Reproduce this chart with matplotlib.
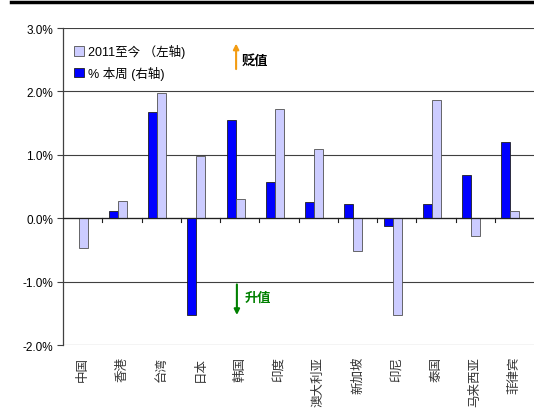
import matplotlib.pyplot as plt
import numpy as np

plt.rcParams['font.family'] = ['Liberation Sans', 'Noto Sans CJK SC', 'DejaVu Sans']

countries = ['中国', '香港', '台湾', '日本', '韩国', '印度', '澳大利亚',
             '新加坡', '印尼', '泰国', '马来西亚', '菲律宾']
week_pct = [0.01, 0.12, 1.67, -1.52, 1.55, 0.58, 0.26, 0.23, -0.12, 0.23, 0.68, 1.20]
ytd_2011 = [-0.47, 0.27, 1.98, 0.99, 0.30, 1.73, 1.10, -0.52, -1.53, 1.86, -0.28, 0.11]

fig = plt.figure(figsize=(5.34, 4.10), dpi=100)
ax = fig.add_axes([0.118, 0.156, 0.882, 0.773])

x = np.arange(len(countries))
w = 0.23
ax.bar(x - 0.1 - w / 2, week_pct, w, color='#0000ff', edgecolor='#202020',
       linewidth=0.6, label='% 本周 (右轴)', zorder=3)
ax.bar(x - 0.1 + w / 2, ytd_2011, w, color='#ccccff', edgecolor='#505050',
       linewidth=0.6, label='2011至今 （左轴)', zorder=3)

ax.set_xlim(-0.5, len(countries) - 0.5)
ax.set_ylim(-2.0, 3.0)
ax.set_yticks([-2, -1, 0, 1, 2, 3])
ax.set_yticklabels(['%.1f%%' % v for v in [-2, -1, 0, 1, 2, 3]], fontsize=8.5)
ax.yaxis.grid(True, color='#404040', linewidth=0.8, zorder=0)
ax.tick_params(axis='y', length=4, width=0.8, color='#404040', pad=3)

ax.set_xticks([])
ax.axhline(0, color='#202020', linewidth=0.9, zorder=4)
for xb in x[1:] - 0.5:
    ax.plot([xb, xb], [0, -0.06], color='#202020', linewidth=0.8, zorder=4)
for xi, name in zip(x, countries):
    ax.text(xi, -2.17, name, rotation=90, ha='center', va='top', fontsize=9,
            color='#333333', family=['Noto Sans CJK SC'])

for s in ['top', 'right', 'bottom']:
    ax.spines[s].set_visible(False)
ax.spines['left'].set_color('#404040')
ax.spines['left'].set_linewidth(0.9)

h, l = ax.get_legend_handles_labels()
ax.legend(h[::-1], l[::-1], loc='upper left', bbox_to_anchor=(0.0, 0.985),
          frameon=False, fontsize=9, handlelength=0.8, handleheight=0.8,
          handletextpad=0.3, labelspacing=0.6)

ax.annotate('', xy=(3.91, 2.8), xytext=(3.91, 2.31),
            arrowprops=dict(arrowstyle='-|>', color='#f39c12', lw=1.5, mutation_scale=8))
ax.text(4.06, 2.5, '贬值', fontsize=9.5, fontweight='bold', va='center',
        family=['Noto Sans CJK SC'])
ax.annotate('', xy=(3.93, -1.57), xytext=(3.93, -1.0),
            arrowprops=dict(arrowstyle='-|>', color='#008000', lw=1.5, mutation_scale=8))
ax.text(4.13, -1.24, '升值', fontsize=9.5, fontweight='bold', va='center',
        color='#008000', family=['Noto Sans CJK SC'])

fig.add_artist(plt.Line2D([0.02, 1.0], [0.992, 0.992], color='black', linewidth=2.5))

fig.savefig('out.png', dpi=100)
